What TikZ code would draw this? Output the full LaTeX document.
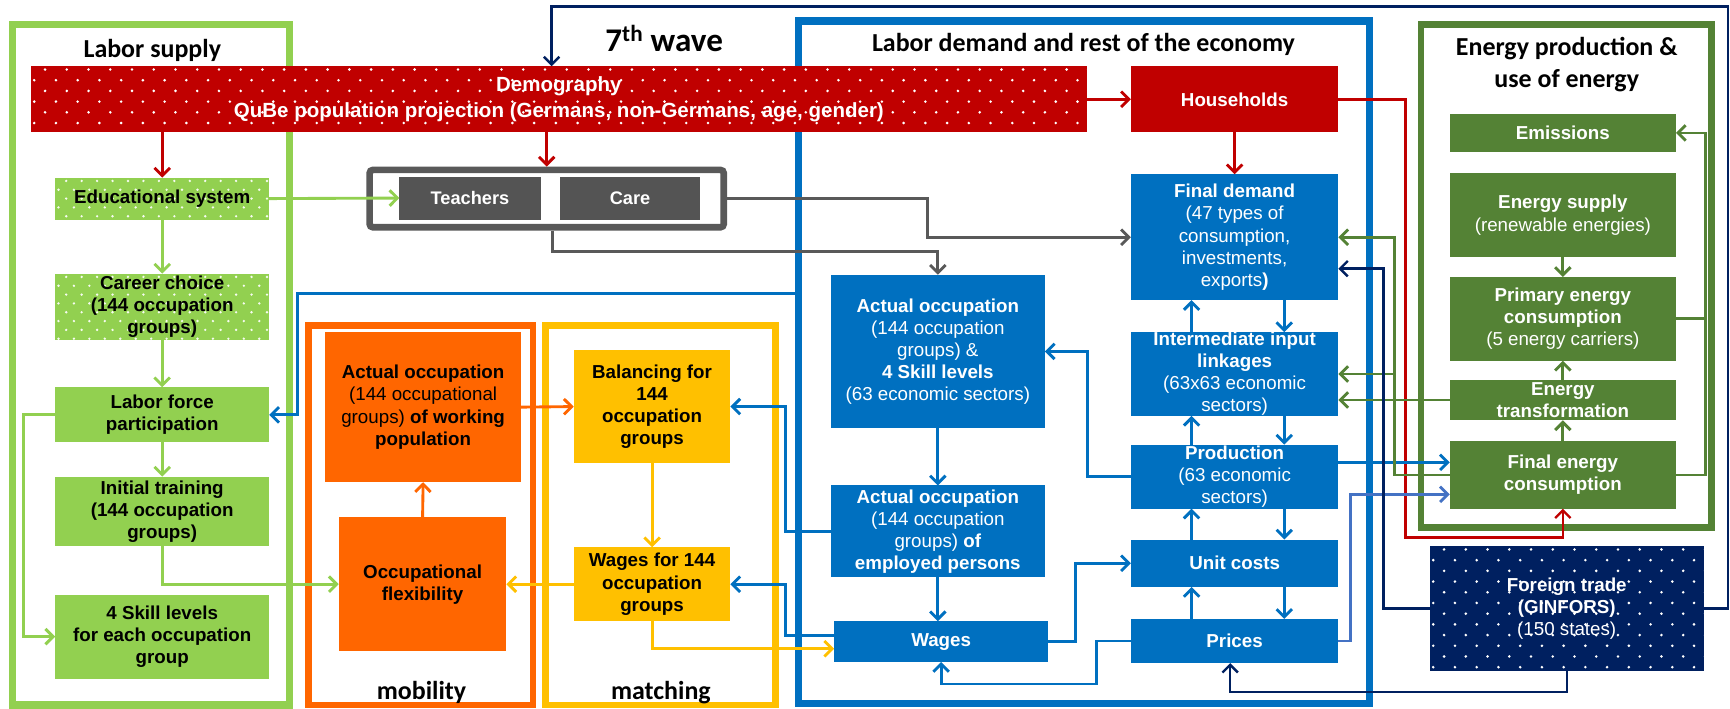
\documentclass[tikz,border=0pt]{standalone}
\usepackage{fontspec}
\setmainfont{Liberation Sans}
\newfontfamily\calfont{Carlito}
\usetikzlibrary{arrows.meta}
\definecolor{lgreen}{HTML}{92D050}
\definecolor{dgreen}{HTML}{548235}
\definecolor{mblue}{HTML}{0070C0}
\definecolor{dred}{HTML}{C00000}
\definecolor{navy}{HTML}{002060}
\definecolor{orng}{HTML}{FF6600}
\definecolor{yell}{HTML}{FFC000}
\definecolor{dgray}{HTML}{545454}
\definecolor{fgray}{HTML}{595959}
\definecolor{lblue}{HTML}{4472C4}
\tikzset{
 bx/.style={rectangle, inner sep=0pt, outer sep=0pt, align=center, font=\fontsize{17}{20}\selectfont},
 wbx/.style={bx, text=white},
 wbb/.style={bx, text=white, font=\fontsize{17}{20}\selectfont\bfseries},
 kbx/.style={bx, text=black},
 kbb/.style={bx, text=black, font=\fontsize{17}{20}\selectfont\bfseries},
 tc/.style={bx, text=white, font=\fontsize{16.5}{20}\selectfont\bfseries},
 demo/.style={bx, text=white, font=\fontsize{18.6}{23}\selectfont\bfseries},
 ttl/.style={inner sep=0pt, font=\calfont\bfseries\fontsize{23.5}{28}\selectfont},
 arr/.style={line width=2.6pt, -{Straight Barb[length=7pt,width=14pt]}},
 thinarr/.style={line width=2.2pt, -{Straight Barb[length=7pt,width=14pt]}},
 frm/.style={line width=6.5pt},
}
\newcommand\bxn[7]{\node[#1, minimum width={#5-#3}, minimum height={#6-#4}] (#2) at ({(#3+#5)/2},{(#4+#6)/2}) {#7};}
\newcommand\mydots[8]{%
 \begin{scope}
  \clip (#1,#2) rectangle (#3,#4);
  \pgfmathsetmacro\dfxa{#1+3}
  \pgfmathsetmacro\dfxb{#1+3+#5}
  \pgfmathsetmacro\dfya{#2+3}
  \pgfmathsetmacro\dfyb{#2+3+#6}
  \foreach \yy [count=\rr] in {\dfya,\dfyb,...,#4} {
    \pgfmathsetmacro\dfoff{mod(\rr,2)*#5/2}
    \foreach \xx in {\dfxa,\dfxb,...,#3} {
      \fill[#7] (\xx+\dfoff,\yy) circle (#8);
    }
  }
 \end{scope}}
\begin{document}
\begin{tikzpicture}[x=1pt,y=-1pt]
\useasboundingbox (0,0) rectangle (1568,642);
\fill[white] (0,0) rectangle (1568,642);

% frames
\draw[frm, lgreen] (11.3,22.5) rectangle (262.5,639);
\draw[frm, mblue] (723.5,19) rectangle (1241,637.5);
\draw[frm, dgreen, line width=6pt] (1288,22) rectangle (1551,478);
\draw[frm, orng, line width=6pt] (279.5,295) rectangle (483,639);
\draw[frm, yell, line width=6pt] (494.5,295) rectangle (703,639);

% titles
\node[ttl, anchor=base] (tls) at (138,52) {Labor supply};
\node[ttl, anchor=base, font=\calfont\bfseries\fontsize{30}{34}\selectfont] (twave) at (602,47) {7\textsuperscript{th} wave};
\node[ttl, anchor=base] (tld) at (982,47) {Labor demand and rest of the economy};
\node[ttl, anchor=base] (te1) at (1420,50) {Energy production \&};
\node[ttl, anchor=base] (te2) at (1420,79) {use of energy};
\node[ttl, anchor=base] (tmob) at (382,634) {mobility};
\node[ttl, anchor=base] (tmat) at (599,634) {matching};

% demography
\fill[dred] (28,60) rectangle (985,120);
\mydots{28}{60}{985}{120}{19.7}{9.7}{white}{1.3}
\bxn{demo}{demog}{28}{60}{985}{120}{Demography\\QuBe population projection (Germans, non-Germans, age, gender)}
\bxn{wbb, fill=dred}{hh}{1025}{60}{1213}{120}{Households}

% labor supply
\fill[lgreen] (50,161) rectangle (244,199);
\mydots{50}{161}{244}{199}{14}{8}{white!92!lgreen}{1.2}
\bxn{kbb}{edu}{50}{161}{244}{199}{Educational system}
\fill[lgreen] (50,248) rectangle (244,308);
\mydots{50}{248}{244}{308}{14}{8}{white!92!lgreen}{1.2}
\bxn{kbb}{career}{50}{248}{244}{308}{Career choice\\(144 occupation\\groups)}
\bxn{kbb, fill=lgreen}{lfp}{50}{351}{244}{401}{Labor force\\participation}
\bxn{kbb, fill=lgreen}{init}{50}{432}{244}{495}{Initial training\\(144 occupation\\groups)}
\bxn{kbb, fill=lgreen}{skill}{50}{539}{244}{615}{4 Skill levels\\for each occupation\\group}

% teachers / care
\node[draw=fgray, line width=6pt, rounded corners=3pt, minimum width=321, minimum height=52, inner sep=0pt] (tframe) at (495.5,180) {};
\bxn{tc, fill=dgray}{teach}{362}{160}{490}{199}{Teachers}
\bxn{tc, fill=dgray}{care}{508}{160}{634}{199}{Care}

% mobility / matching
\bxn{kbx, fill=orng}{aoo}{295}{301}{472}{437}{\textbf{Actual occupation}\\(144 occupational\\groups) \textbf{of working}\\\textbf{population}}
\bxn{kbb, fill=orng}{of}{307}{469}{459}{590}{Occupational\\flexibility}
\bxn{kbb, fill=yell}{bal}{520}{317}{662}{420}{Balancing for\\144\\occupation\\groups}
\bxn{kbb, fill=yell}{w144}{520}{496}{662}{563}{Wages for 144\\occupation\\groups}

% labor demand
\bxn{wbx, fill=mblue}{ao1}{753}{249}{947}{388}{\textbf{Actual occupation}\\(144 occupation\\groups) \&\\\textbf{4 Skill levels}\\(63 economic sectors)}
\bxn{wbx, fill=mblue}{ao2}{753}{440}{947}{523}{\textbf{Actual occupation}\\(144 occupation\\groups) \textbf{of}\\\textbf{employed persons}}
\bxn{wbb, fill=mblue}{wages}{756}{563}{950}{600}{Wages}
\bxn{wbx, fill=mblue}{fd}{1025}{158}{1213}{272}{\textbf{Final demand}\\(47 types of\\consumption,\\investments,\\exports\textbf{)}}
\bxn{wbx, fill=mblue}{int}{1025}{302}{1213}{376}{\textbf{Intermediate input}\\\textbf{linkages}\\(63x63 economic\\sectors)}
\bxn{wbx, fill=mblue}{prod}{1025}{403}{1213}{461}{\textbf{Production}\\(63 economic\\sectors)}
\bxn{wbb, fill=mblue}{uc}{1025}{489}{1213}{532}{Unit costs}
\bxn{wbb, fill=mblue}{prices}{1025}{561}{1213}{601}{Prices}

% energy
\bxn{wbb, fill=dgreen}{em}{1314}{103}{1519}{138}{Emissions}
\bxn{wbx, fill=dgreen}{es}{1314}{157}{1519}{233}{\textbf{Energy supply}\\(renewable energies)}
\bxn{wbx, fill=dgreen}{pe}{1314}{251}{1519}{327}{\textbf{Primary energy}\\\textbf{consumption}\\(5 energy carriers)}
\bxn{wbb, fill=dgreen}{trans}{1314}{344}{1519}{381}{Energy\\transformation}
\bxn{wbb, fill=dgreen}{fe}{1314}{400}{1519}{461}{Final energy\\consumption}

% foreign trade
\fill[navy] (1296,495) rectangle (1544,608);
\mydots{1296}{495}{1544}{608}{19.7}{9.7}{white}{1.3}
\bxn{wbx}{ft}{1296}{495}{1544}{608}{\textbf{Foreign trade}\\\textbf{(GINFORS)}\\(150 states)}

% helper coordinates
\coordinate (bfl) at (720.5,266);
\coordinate (tfs) at ([xshift=5.5pt]tframe.south);
\coordinate (yw) at ([yshift=-6.5pt]wages.west);
\coordinate (bw) at ([yshift=5.5pt]wages.west);
\coordinate (pe1) at ([yshift=13pt]prod.east);
\coordinate (fe2) at ([yshift=-17.5pt]fe.west);
\coordinate (gv) at ([xshift=-50pt]fe.west);
\coordinate (fdn) at ([yshift=-28.5pt]fd.east);
\coordinate (prs) at ([xshift=-4pt]prices.south);
\coordinate (nvx) at (500,0);
\coordinate (upx) at (1080,0);
\coordinate (dnx) at (1164,0);

% red connectors
\draw[arr, dred] (edu.north |- demog.south) -- (edu.north);
\draw[arr, dred] (tframe.north |- demog.south) -- (tframe.north);
\draw[arr, dred] (demog.east) -- (hh.west);
\draw[arr, dred] (hh.south) -- (fd.north);
\draw[thinarr, dred] (hh.east) -- ++(61,0) -- ++(0,397) -| (fe.south);

% light green connectors
\draw[arr, lgreen] (edu.east) -- (teach.west);
\draw[arr, lgreen] (edu.south) -- (career.north);
\draw[arr, lgreen] (career.south) -- (lfp.north);
\draw[arr, lgreen] (lfp.south) -- (init.north);
\draw[arr, lgreen] (lfp.west) -- ++(-29,0) |- (skill.west);
\draw[arr, lgreen] (init.south) |- (of.west);

% gray connectors
\draw[arr, fgray] (tframe.east) -- ++(182,0) |- (fd.west);
\draw[arr, fgray] (tfs) -- ++(0,19) -| (ao1.north);

% orange / yellow
\draw[arr, orng] (of.north) -- (aoo.south);
\draw[arr, orng] (aoo.east) -- (bal.west);
\draw[arr, yell] (bal.south) -- (w144.north);
\draw[arr, yell] (w144.west) -- (of.east);
\draw[arr, yell] (w144.south) |- (yw);

% blue connectors
\draw[arr, mblue] (bfl) -- (270,266) |- (lfp.east);
\draw[arr, mblue] (ao2.west) -- ++(-41,0) |- (bal.east);
\draw[arr, mblue] (bw) -- ++(-44,0) |- (w144.east);
\draw[arr, mblue] (ao1.south) -- (ao2.north);
\draw[arr, mblue] (ao2.south) -- (ao2.south |- wages.north);
\draw[arr, mblue] (prod.west) -- ++(-39,0) |- (ao1.east);
\draw[arr, mblue] (wages.east) -- ++(25,0) |- (uc.west);
\draw[arr, mblue] (prices.west) -- ++(-31,0) -- ++(0,39) -| (wages.south);
\foreach \a/\b in {fd/int, int/prod, prod/uc, uc/prices} {
  \draw[arr, mblue] (\b.north -| upx) -- (\a.south -| upx);
  \draw[arr, mblue] (\a.south -| dnx) -- (\b.north -| dnx);
}
\draw[arr, mblue] (pe1) -- (pe1 -| fe.west);
\draw[arr, lblue] (prices.east) -- ++(11,0) |- (fe2);

% dark green connectors
\draw[arr, dgreen] (fe.west) -- (gv) |- (fd.east);
\draw[arr, dgreen] (gv |- int.east) -- (int.east);
\draw[arr, dgreen] (trans.west) -- (trans.west -| int.east);
\draw[arr, dgreen] (es.south) -- (pe.north);
\draw[arr, dgreen] (trans.north) -- (pe.south);
\draw[arr, dgreen] (fe.north) -- (trans.south);
\draw[arr, dgreen] (pe.east) -- ++(27,0) |- (em.east);
\draw[line width=2.6pt, dgreen] (fe.east) -| ([xshift=27pt]pe.east);

% navy connectors
\draw[thinarr, navy] (ft.east) -| (1566,6) -| (demog.north -| nvx);
\draw[thinarr, navy] (ft.west) -- ++(-42,0) |- (fdn);
\draw[thinarr, navy] (ft.south) -- ++(0,19) -| (prs);
\end{tikzpicture}
\end{document}
